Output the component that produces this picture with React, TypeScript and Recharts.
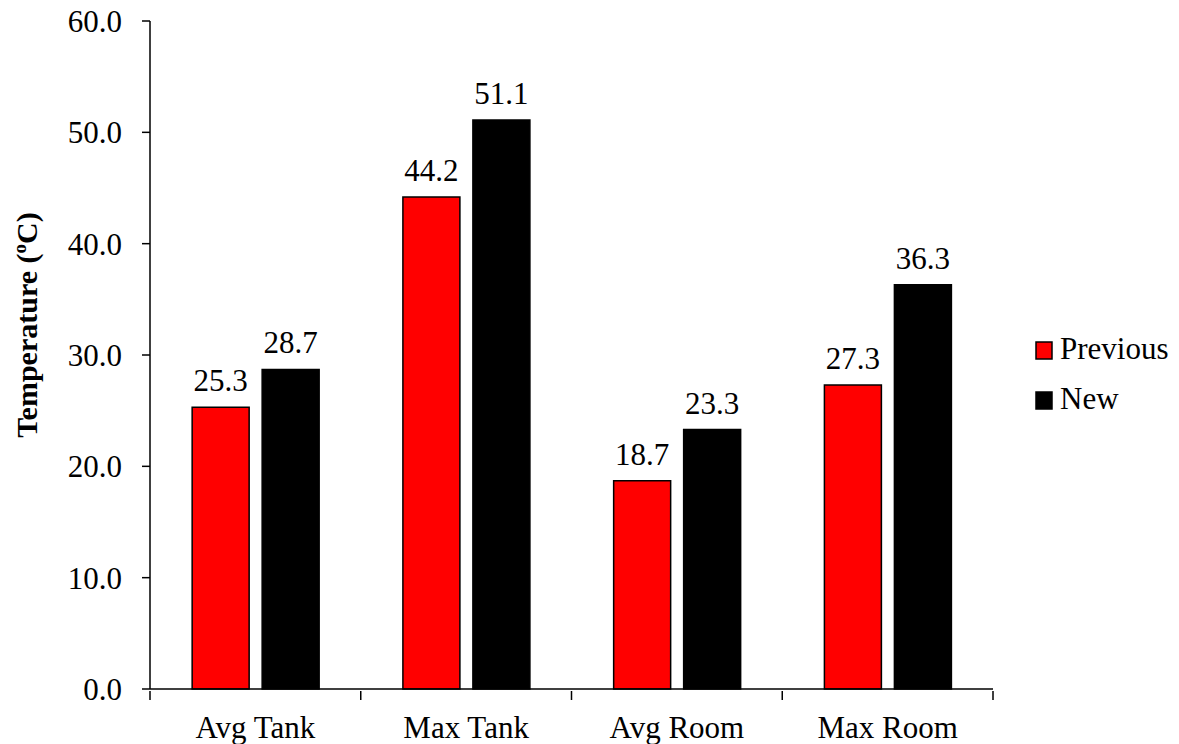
import { BarChart, Bar, XAxis, YAxis, LabelList } from 'recharts'

const categories = ['Avg Tank', 'Max Tank', 'Avg Room', 'Max Room']
const previousValues = [25.3, 44.2, 18.7, 27.3]
const newValues = [28.7, 51.1, 23.3, 36.3]
const yTicks = [0, 10, 20, 30, 40, 50, 60]

const data = categories.map((name, i) => ({ name, previous: previousValues[i], next: newValues[i] }))

const W = 1179
const H = 744
const LEFT = 150
const RIGHT = 186
const TOP = 21
const BOTTOM = 55
const PLOT_W = W - LEFT - RIGHT
const HALF_BAND = PLOT_W / categories.length / 2
const FONT = '"Liberation Serif", "Times New Roman", serif'
const FS = 31

// category labels centred on the band, tick marks on the band edges
const CategoryTick = ({ x, y, payload, index }: any) => (
  <g>
    <line x1={x - HALF_BAND} y1={y} x2={x - HALF_BAND} y2={y + 9} stroke="#000" strokeWidth={1.5} />
    {index === categories.length - 1 && (
      <line x1={x + HALF_BAND} y1={y} x2={x + HALF_BAND} y2={y + 9} stroke="#000" strokeWidth={1.5} />
    )}
    <text x={x} y={y + 47} textAnchor="middle" fontSize={FS} fontFamily={FONT} fill="#000">
      {payload.value}
    </text>
  </g>
)

const AxisTitle = () => (
  <text
    x={0}
    y={0}
    transform="translate(37, 325) rotate(-90)"
    textAnchor="middle"
    fontSize={30}
    fontWeight="bold"
    fontFamily={FONT}
    fill="#000"
  >
    Temperature (
    <tspan fontSize={19} dy={-11}>o</tspan>
    <tspan dy={11}>C)</tspan>
  </text>
)

const legendItems = [
  { label: 'Previous', color: '#ff0000' },
  { label: 'New', color: '#000000' },
]

const LegendBox = () => (
  <g fontFamily={FONT}>
    {legendItems.map((item, i) => (
      <g key={item.label} transform={`translate(1036, ${342 + i * 50})`}>
        <rect x={0} y={0} width={16} height={17} fill={item.color} stroke="#000" strokeWidth={1.5} />
        <text x={24} y={17} fontSize={FS} fill="#000">{item.label}</text>
      </g>
    ))}
  </g>
)

export default function App() {
  return (
    <div style={{ position: 'absolute', left: 0, top: 0, background: '#fff' }}>
      <BarChart
        width={W}
        height={H}
        data={data}
        margin={{ top: TOP, right: RIGHT, bottom: 0, left: 0 }}
        barCategoryGap="20%"
        barGap={13}
      >
        <XAxis
          dataKey="name"
          height={BOTTOM}
          axisLine={{ stroke: '#000', strokeWidth: 1.5 }}
          tickLine={false}
          tickSize={0}
          tick={<CategoryTick />}
          interval={0}
        />
        <YAxis
          width={LEFT}
          domain={[0, 60]}
          ticks={yTicks}
          interval={0}
          tickFormatter={(v: number) => v.toFixed(1)}
          axisLine={{ stroke: '#000', strokeWidth: 1.5 }}
          tickLine={{ stroke: '#000', strokeWidth: 1.5 }}
          tickSize={8}
          tickMargin={20}
          tick={{ fontSize: FS, fontFamily: FONT, fill: '#000' }}
          label={<AxisTitle />}
        />
        <Bar dataKey="previous" fill="#ff0000" stroke="#000" strokeWidth={1.5} isAnimationActive={false}>
          <LabelList
            dataKey="previous"
            position="top"
            offset={16}
            formatter={(v: any) => Number(v).toFixed(1)}
            style={{ fontSize: FS, fontFamily: FONT, fill: '#000' }}
          />
        </Bar>
        <Bar dataKey="next" fill="#000" stroke="#000" strokeWidth={1.5} isAnimationActive={false}>
          <LabelList
            dataKey="next"
            position="top"
            offset={16}
            formatter={(v: any) => Number(v).toFixed(1)}
            style={{ fontSize: FS, fontFamily: FONT, fill: '#000' }}
          />
        </Bar>
        <LegendBox />
      </BarChart>
    </div>
  )
}
